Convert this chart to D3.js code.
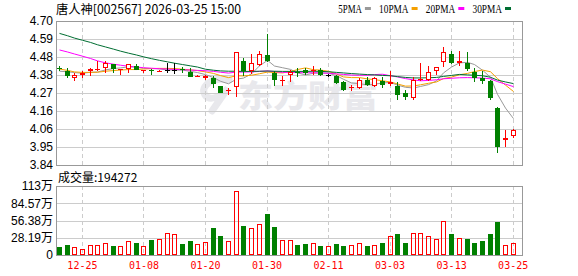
<!DOCTYPE html>
<html>
<head>
<meta charset="utf-8">
<script src="https://cdn.jsdelivr.net/npm/d3@7"></script>
<style>
  body { margin: 0; background: #fff; }
</style>
</head>
<body>
<script>
// trading days shown (60 sessions)
const dates = ["12-22","12-23","12-24","12-25","12-26","12-29","12-30","12-31","01-05","01-06",
  "01-07","01-08","01-09","01-12","01-13","01-14","01-15","01-16","01-19","01-20",
  "01-21","01-22","01-23","01-26","01-27","01-28","01-29","01-30","02-02","02-03",
  "02-04","02-05","02-06","02-09","02-10","02-11","02-12","02-13","02-24","02-25",
  "02-26","02-27","03-02","03-03","03-04","03-05","03-06","03-09","03-10","03-11",
  "03-12","03-13","03-16","03-17","03-18","03-19","03-20","03-23","03-24","03-25"];

const open = [4.418,4.403,4.362,4.377,4.400,4.414,4.418,4.443,4.410,4.415,
  4.430,4.403,4.408,4.400,4.410,4.410,4.412,4.397,4.363,4.360,
  4.358,4.312,4.285,4.305,4.460,4.400,4.440,4.495,4.390,4.345,
  4.378,4.397,4.410,4.402,4.408,4.377,4.370,4.336,4.298,4.300,
  4.347,4.313,4.343,4.322,4.312,4.268,4.242,4.345,4.347,4.403,
  4.453,4.503,4.447,4.451,4.397,4.357,4.343,4.182,3.990,4.015];
const high = [4.430,4.417,4.390,4.400,4.420,4.460,4.460,4.445,4.415,4.445,
  4.443,4.410,4.412,4.410,4.447,4.447,4.427,4.420,4.375,4.378,
  4.373,4.312,4.300,4.513,4.480,4.503,4.520,4.622,4.400,4.373,
  4.410,4.417,4.417,4.430,4.417,4.385,4.377,4.340,4.318,4.360,
  4.365,4.367,4.363,4.400,4.337,4.288,4.367,4.447,4.430,4.427,
  4.543,4.523,4.520,4.513,4.417,4.403,4.345,4.185,4.049,4.053];
const low = [4.400,4.360,4.343,4.360,4.370,4.400,4.390,4.390,4.380,4.390,
  4.405,4.390,4.380,4.395,4.390,4.383,4.390,4.363,4.363,4.350,
  4.300,4.272,4.260,4.248,4.373,4.383,4.430,4.457,4.313,4.313,
  4.334,4.364,4.380,4.377,4.370,4.364,4.325,4.280,4.284,4.295,
  4.310,4.308,4.300,4.313,4.228,4.228,4.228,4.340,4.340,4.377,
  4.427,4.443,4.433,4.400,4.334,4.322,4.228,3.913,3.949,4.000];
const close = [4.416,4.373,4.376,4.390,4.413,4.416,4.447,4.413,4.413,4.443,
  4.410,4.407,4.405,4.404,4.410,4.410,4.408,4.363,4.373,4.370,
  4.322,4.272,4.290,4.513,4.400,4.447,4.500,4.463,4.345,4.350,
  4.396,4.392,4.388,4.410,4.380,4.377,4.330,4.288,4.307,4.347,
  4.318,4.357,4.318,4.334,4.258,4.248,4.347,4.355,4.397,4.427,
  4.513,4.451,4.460,4.413,4.361,4.343,4.242,3.949,4.003,4.049];

// volume, in 万 shares
const volume = [13.1,16.3,12.6,9.3,15.8,15.8,19.0,14.7,14.2,22.9,
  19.6,14.2,24.5,25.6,35.4,33.8,18.0,22.9,18.0,21.2,
  44.0,31.0,22.9,104.0,47.4,43.6,50.6,67.5,45.7,24.5,
  24.5,16.3,18.0,19.6,14.7,14.7,18.0,14.7,16.3,19.6,
  14.7,16.3,19.6,31.0,34.3,19.6,36.0,36.0,31.0,26.0,
  55.6,34.3,27.3,26.0,19.6,22.9,34.3,54.0,15.8,19.4272];

const ma5 = [4.400,4.397,4.392,4.388,4.394,4.395,4.408,4.416,4.420,4.426,
  4.425,4.417,4.416,4.414,4.407,4.407,4.407,4.399,4.392,4.380,
  4.362,4.340,4.325,4.353,4.359,4.384,4.432,4.465,4.431,4.421,
  4.411,4.390,4.378,4.388,4.390,4.388,4.374,4.352,4.330,4.326,
  4.318,4.322,4.330,4.333,4.317,4.304,4.300,4.309,4.320,4.342,
  4.390,4.425,4.450,4.453,4.440,4.406,4.364,4.262,4.180,4.117];
const ma10 = [4.413,4.405,4.396,4.393,4.393,4.394,4.400,4.404,4.407,4.410,
  4.410,4.413,4.416,4.417,4.417,4.416,4.412,4.408,4.404,4.396,
  4.387,4.374,4.362,4.373,4.372,4.376,4.385,4.395,4.392,4.390,
  4.398,4.410,4.420,4.409,4.407,4.400,4.383,4.366,4.362,4.362,
  4.354,4.350,4.343,4.336,4.324,4.311,4.312,4.319,4.328,4.336,
  4.356,4.365,4.379,4.387,4.398,4.407,4.397,4.356,4.317,4.279];
const ma20 = [4.527,4.515,4.503,4.490,4.476,4.462,4.450,4.442,4.436,4.430,
  4.425,4.421,4.418,4.415,4.413,4.411,4.409,4.407,4.405,4.403,
  4.399,4.394,4.389,4.395,4.395,4.396,4.399,4.402,4.398,4.393,
  4.393,4.392,4.391,4.391,4.390,4.388,4.384,4.381,4.377,4.376,
  4.376,4.380,4.382,4.373,4.366,4.356,4.348,4.343,4.345,4.349,
  4.355,4.358,4.361,4.362,4.361,4.359,4.355,4.338,4.323,4.308];
const ma30 = [4.626,4.612,4.598,4.585,4.572,4.558,4.545,4.532,4.520,4.508,
  4.497,4.486,4.475,4.465,4.456,4.448,4.440,4.432,4.425,4.412,
  4.406,4.402,4.400,4.400,4.399,4.399,4.400,4.401,4.400,4.399,
  4.399,4.399,4.399,4.400,4.399,4.397,4.393,4.390,4.386,4.383,
  4.380,4.378,4.375,4.373,4.368,4.363,4.360,4.360,4.361,4.363,
  4.369,4.375,4.381,4.378,4.376,4.373,4.364,4.347,4.336,4.326];

const dateTicks = ["12-25","01-08","01-20","01-30","02-11","03-03","03-13","03-25"];
const priceTickLabels = ["3.84","3.95","4.06","4.16","4.27","4.38","4.48","4.59","4.70"];
const volTickLabels = ["0","28.19万","56.38万","84.57万","113万"];
const maNames = ["5PMA","10PMA","20PMA","30PMA"];
const maColors = ["#999999","#f5a000","#ff00ff","#006e32"];

const priceMin = 3.84, priceMax = 4.70, volMax = 112.76;
const RED = "#ff0000", GREEN = "#008000";
const L = 56, R = 522;

const svg = d3.select("body").append("svg")
    .attr("width", 578)
    .attr("height", 276)
    .style("display", "block")
    .style("background", "#fff");

const x = d3.scaleBand().domain(dates).range([L, 517.5]);
const y = d3.scaleLinear().domain([priceMin, priceMax]).range([165, 21]);
const v = d3.scaleLinear().domain([0, volMax]).range([255, 186]);
const cx = d => Math.round(x(d) + x.bandwidth() / 2);

// title + legend
svg.append("text")
    .attr("x", 56).attr("y", 13.5)
    .attr("textLength", 185).attr("lengthAdjust", "spacingAndGlyphs")
    .style("font", "12.5px 'Noto Sans CJK SC', sans-serif")
    .attr("fill", "#000")
    .text("唐人神[002567] 2026-03-25 15:00");

let lx = 338.3;
maNames.forEach((n, i) => {
  const w = n.length * 5.9;
  svg.append("text")
      .attr("x", lx).attr("y", 13)
      .attr("textLength", w).attr("lengthAdjust", "spacingAndGlyphs")
      .style("font", "12px 'Liberation Serif', serif")
      .text(n);
  svg.append("rect")
      .attr("x", lx + w + 3).attr("y", 7).attr("width", 6).attr("height", 3)
      .attr("fill", maColors[i]);
  lx += w + 3 + 6 + 8.2;
});

// watermark
svg.append("path")
    .attr("d", "M229,80 C214,76 199,86 205,95 C209,101 221,98 228,88 L212,111")
    .attr("fill", "none").attr("stroke", "#e8e8ec")
    .attr("stroke-width", 7).attr("stroke-linecap", "round");
svg.append("text")
    .attr("x", 238).attr("y", 107)
    .attr("textLength", 140).attr("lengthAdjust", "spacingAndGlyphs")
    .style("font", "900 31px 'Noto Sans CJK SC', sans-serif")
    .attr("fill", "#e8e8ec")
    .text("东方财富");

// grid
const priceTicks = d3.range(priceTickLabels.length).map(i => priceMin + i * (priceMax - priceMin) / (priceTickLabels.length - 1));
const volTicks = d3.range(volTickLabels.length).map(i => i * volMax / (volTickLabels.length - 1));

const grid = svg.append("g").attr("stroke", "#cccccc").attr("shape-rendering", "crispEdges");
priceTicks.forEach(t => {
  const yy = Math.round(y(t)) + 0.5;
  grid.append("line").attr("x1", L).attr("x2", R).attr("y1", yy).attr("y2", yy);
});
volTicks.forEach(t => {
  const yy = Math.round(v(t)) + 0.5;
  grid.append("line").attr("x1", L).attr("x2", R).attr("y1", yy).attr("y2", yy);
});
dateTicks.forEach(d => {
  const xx = cx(d) - 0.5;
  grid.append("line").attr("x1", xx).attr("x2", xx).attr("y1", 21).attr("y2", 165)
      .attr("stroke-dasharray", "4,3");
  grid.append("line").attr("x1", xx).attr("x2", xx).attr("y1", 186).attr("y2", 255)
      .attr("stroke-dasharray", "4,3");
});

// axes labels
const yAxis = svg.append("g")
    .attr("transform", `translate(${L},0)`)
    .call(d3.axisLeft(y).tickValues(priceTicks)
      .tickFormat((d, i) => priceTickLabels[i]).tickSize(0).tickPadding(3));
const vAxis = svg.append("g")
    .attr("transform", `translate(${L},0)`)
    .call(d3.axisLeft(v).tickValues(volTicks)
      .tickFormat((d, i) => volTickLabels[i]).tickSize(0).tickPadding(3));
[yAxis, vAxis].forEach(g => {
  g.select(".domain").remove();
  g.selectAll("text").attr("fill", "#000")
    .style("font", "12px 'Liberation Sans', 'Noto Sans CJK SC', sans-serif");
});

const xAxis = svg.append("g")
    .attr("transform", "translate(0,255)")
    .call(d3.axisBottom(x).tickValues(dateTicks).tickSize(0).tickPadding(7));
xAxis.select(".domain").remove();
xAxis.selectAll("text").attr("fill", RED)
    .style("font", "10px 'DejaVu Sans Mono', monospace")
    .attr("dx", "-0.5");

svg.append("text")
    .attr("x", 58).attr("y", 182)
    .style("font", "12px 'Noto Sans CJK SC', sans-serif")
    .text("成交量:" + Math.round(volume[volume.length - 1] * 10000));

// moving averages
[ma5, ma10, ma20, ma30].forEach((arr, k) => {
  svg.append("path")
      .datum(arr)
      .attr("fill", "none")
      .attr("stroke", maColors[k])
      .attr("stroke-width", 1)
      .attr("d", d3.line().x((d, i) => cx(dates[i]) - 0.5).y(d => y(d)));
});

// candles
const candles = svg.append("g").attr("shape-rendering", "crispEdges");
dates.forEach((d, i) => {
  const px = cx(d);
  const o = open[i], c = close[i];
  const col = o === c ? "#000" : (c > o ? RED : GREEN);
  const hi = Math.round(y(high[i])), lo = Math.round(y(low[i]));
  candles.append("rect").attr("x", px - 1).attr("y", hi).attr("width", 1)
      .attr("height", Math.max(1, lo - hi)).attr("fill", col);
  const t = Math.round(y(Math.max(o, c))), b = Math.round(y(Math.min(o, c)));
  if (c > o && b - t >= 3) {
    candles.append("rect").attr("x", px - 2.5).attr("y", t + 0.5)
        .attr("width", 4).attr("height", b - t - 1)
        .attr("fill", "#fff").attr("stroke", col);
  } else {
    candles.append("rect").attr("x", px - 3).attr("y", t)
        .attr("width", 5).attr("height", Math.max(1, b - t)).attr("fill", col);
  }
});

// volume bars
const bars = svg.append("g").attr("shape-rendering", "crispEdges");
dates.forEach((d, i) => {
  const px = cx(d);
  const t = Math.round(v(volume[i]));
  if (close[i] >= open[i]) {
    bars.append("rect").attr("x", px - 2.5).attr("y", t + 0.5)
        .attr("width", 4).attr("height", 255 - t - 1)
        .attr("fill", "none").attr("stroke", RED);
  } else {
    bars.append("rect").attr("x", px - 3).attr("y", t)
        .attr("width", 5).attr("height", 255 - t).attr("fill", GREEN);
  }
});

// panel borders
svg.append("rect").attr("x", L + 0.5).attr("y", 21.5).attr("width", R - L).attr("height", 144)
    .attr("fill", "none").attr("stroke", "#999").attr("shape-rendering", "crispEdges");
svg.append("rect").attr("x", L + 0.5).attr("y", 186.5).attr("width", R - L).attr("height", 69)
    .attr("fill", "none").attr("stroke", "#999").attr("shape-rendering", "crispEdges");
</script>
</body>
</html>
